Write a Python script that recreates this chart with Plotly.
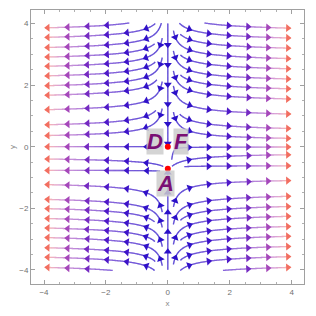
import numpy as np
import plotly.graph_objects as go

# ---- values ----
left_levels = [3.86, 3.55, 3.22, 2.91, 2.61, 2.30, 1.98, 1.67, 1.20, 0.71, 0.36, 0.0,
               -0.40, -0.77, -1.23, -1.71, -2.01, -2.33, -2.64, -2.95, -3.28, -3.59, -3.92]
right_levels = [3.85, 3.53, 3.20, 2.86, 2.53, 2.20, 1.88, 1.55, 1.06, 0.59, 0.27, -0.01,
                -0.26, -0.62, -1.10, -1.61, -1.94, -2.26, -2.59, -2.91, -3.24, -3.57, -3.92]
top_seed_x = [-0.15, 0.15, -0.35, 0.35]
bottom_seed_x = [-0.12, 0.12, -0.32, 0.32]
fixed_x = [0.0, 0.0]
fixed_y = [0.0, -0.72]
label_text = ["D", "F", "A"]
label_x = [-0.41, 0.43, -0.09]
label_y = [0.16, 0.16, -1.20]
tick_vals = [-4, -2, 0, 2, 4]

# ---- vector field model (stream plot) ----
def field(x, y):
    u = np.sign(x) * abs(x) ** 1.5 * x * x / (x * x + 0.03)
    v = -0.2 * np.tanh(y / 0.3) * np.tanh((y + 0.72) / 0.3) ** 2
    return u, v

DSEP = 0.18
grid = {}

def cell(x, y):
    return (int(np.floor(x / DSEP)), int(np.floor(y / DSEP)))

def occupied(x, y):
    cx, cy = cell(x, y)
    for i in (-1, 0, 1):
        for j in (-1, 0, 1):
            for (px, py) in grid.get((cx + i, cy + j), []):
                if (px - x) ** 2 + (py - y) ** 2 < DSEP ** 2:
                    return True
    return False

def trace(x0, y0, sgn, ds=0.015, nmax=3000):
    pts = [(x0, y0)]
    x, y = x0, y0
    for _ in range(nmax):
        u, v = field(x, y)
        s = np.hypot(u, v)
        if s < 0.004:
            break
        xm, ym = x + 0.5 * ds * sgn * u / s, y + 0.5 * ds * sgn * v / s
        u2, v2 = field(xm, ym)
        s2 = np.hypot(u2, v2)
        if s2 < 0.004:
            break
        x, y = x + ds * sgn * u2 / s2, y + ds * sgn * v2 / s2
        if abs(x) > 3.98 or abs(y) > 4.02:
            break
        if occupied(x, y):
            break
        pts.append((x, y))
    return pts

def commit(pts):
    for (x, y) in pts:
        grid.setdefault(cell(x, y), []).append((x, y))

lines = []
def add(pts):
    if len(pts) < 15:
        return
    lines.append(np.array(pts))
    commit(pts)

# axis lines
add(trace(0.0, 4.0, 1))
add(trace(0.0, -4.0, 1))
add(trace(0.0, -0.62, 1))

seeds = [(-3.97, y) for y in left_levels] + [(3.97, y) for y in right_levels]
seeds.sort(key=lambda p: abs(p[1] + 0.35))
for (x0, y0) in seeds:
    p = trace(x0, y0, -1)
    add(p[::-1])
for xs in top_seed_x:
    if not occupied(xs, 4.0):
        add(trace(xs, 4.0, 1))
for xs in bottom_seed_x:
    if not occupied(xs, -4.0):
        add(trace(xs, -4.0, 1))

# ---- colours by speed ----
stops = [(0.0, (40, 15, 200)), (0.35, (80, 25, 200)), (0.65, (145, 55, 190)),
         (0.82, (190, 90, 180)), (0.93, (235, 110, 120)), (1.0, (255, 110, 50))]
def colour(t):
    t = min(max(t, 0.0), 1.0)
    for (a, ca), (b, cb) in zip(stops[:-1], stops[1:]):
        if t <= b:
            f = (t - a) / (b - a)
            return tuple(int(round(ca[k] + f * (cb[k] - ca[k]))) for k in range(3))
    return stops[-1][1]

def lighten(c, f):
    return tuple(int(round(ch + f * (255 - ch))) for ch in c)

SMAX = 8.0
NB = 24
bins = [[[], []] for _ in range(NB)]
ax_x, ax_y, ax_ang, ax_col = [], [], [], []
for L in lines:
    for i in range(len(L) - 1):
        xm, ym = (L[i] + L[i + 1]) / 2
        u, v = field(xm, ym)
        t = np.hypot(u, v) / SMAX
        b = min(int(t * NB), NB - 1)
        bins[b][0] += [L[i][0], L[i + 1][0], None]
        bins[b][1] += [L[i][1], L[i + 1][1], None]
    seg = np.hypot(np.diff(L[:, 0]), np.diff(L[:, 1]))
    arc = np.concatenate([[0], np.cumsum(seg)])
    total = arc[-1]
    pos = total - 0.1
    while pos > 0.2:
        k = np.searchsorted(arc, pos)
        k = min(max(k, 1), len(L) - 1)
        x, y = L[k]
        dx, dy = L[k] - L[k - 1]
        ax_x.append(x)
        ax_y.append(y)
        ax_ang.append(float(np.degrees(np.arctan2(dx, dy))))
        u, v = field(x, y)
        ax_col.append('rgb(%d,%d,%d)' % colour(np.hypot(u, v) / SMAX))
        pos -= 0.64

fig = go.Figure()
for b in range(NB):
    if bins[b][0]:
        tb = (b + 0.5) / NB
        c = lighten(colour(tb), 0.3 * tb)
        fig.add_trace(go.Scatter(x=bins[b][0], y=bins[b][1], mode='lines',
                                 line=dict(color='rgb(%d,%d,%d)' % c, width=1.3),
                                 hoverinfo='skip', showlegend=False))
fig.add_trace(go.Scatter(x=ax_x, y=ax_y, mode='markers',
                         marker=dict(symbol='triangle-up', size=7, angle=ax_ang,
                                     color=ax_col, line=dict(width=0)),
                         hoverinfo='skip', showlegend=False))
fig.add_trace(go.Scatter(x=fixed_x, y=fixed_y, mode='markers',
                         marker=dict(color='#ff0000', size=6),
                         hoverinfo='skip', showlegend=False))
for t, x, y in zip(label_text, label_x, label_y):
    fig.add_annotation(x=x, y=y, text='<b><i>%s</i></b>' % t, showarrow=False,
                       font=dict(family='Liberation Sans', size=22, color='#7a0f74'),
                       bgcolor='rgba(205,205,205,0.85)', borderpad=0)

axis_common = dict(showgrid=False, zeroline=False, showline=True, linecolor='#a0a0a0',
                   linewidth=1, mirror='allticks', ticks='inside', ticklen=4,
                   tickcolor='#a0a0a0', tickvals=tick_vals, automargin=False,
                   tickfont=dict(family='Liberation Sans', size=8, color='#707070'),
                   minor=dict(ticks='inside', ticklen=2, tickcolor='#b0b0b0', dtick=0.5))
fig.update_xaxes(range=[-4.42, 4.40], title=dict(text='x', standoff=4,
                 font=dict(family='Liberation Sans', size=8, color='#888888')), **axis_common)
fig.update_yaxes(range=[-4.46, 4.44], title=dict(text='y', standoff=6,
                 font=dict(family='Liberation Sans', size=8, color='#888888')), **axis_common)
fig.update_layout(width=308, height=308, margin=dict(l=23, r=12, t=2, b=32),
                  paper_bgcolor='white', plot_bgcolor='white')
fig.write_html("out.html")
